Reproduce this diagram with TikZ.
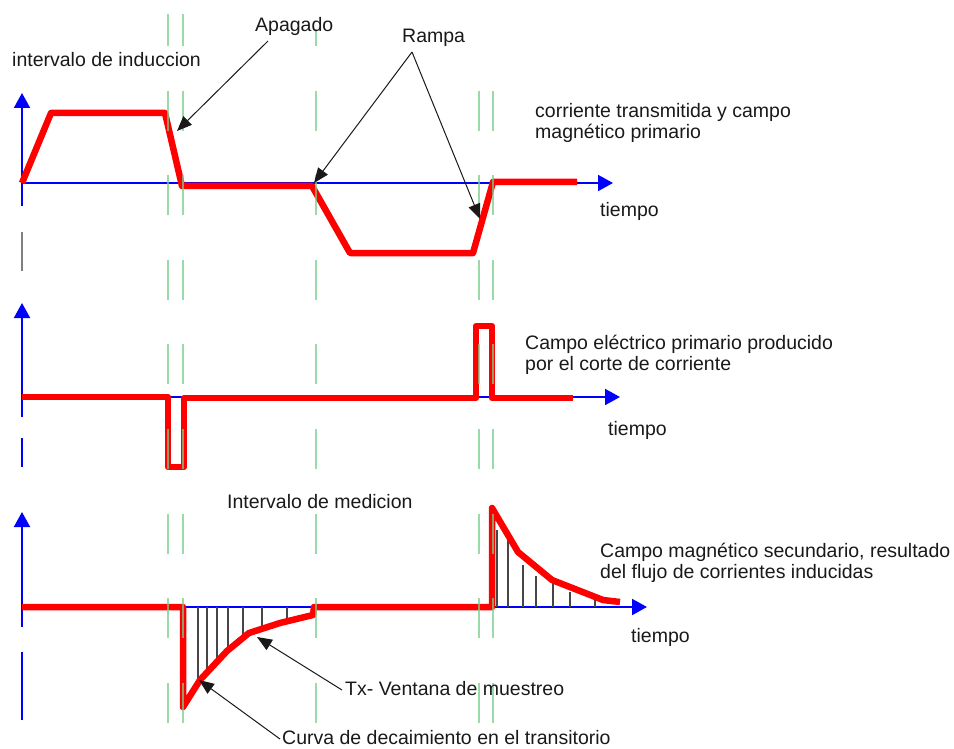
\documentclass[tikz,border=0pt]{standalone}
\usepackage{fontspec}
\setmainfont{Liberation Sans}
\usetikzlibrary{arrows.meta}
\definecolor{guidegreen}{RGB}{120,205,140}
\definecolor{txt}{RGB}{25,25,25}
\definecolor{hatchgray}{RGB}{70,70,70}
\begin{document}
\begin{tikzpicture}[x=1pt,y=-1pt,
  axisline/.style={draw={rgb,255:red,0;green,0;blue,255}, line width=2pt},
  axarrow/.style={axisline, -{Triangle[length=15pt,width=16pt]}},
  signal/.style={draw={rgb,255:red,255;green,0;blue,0}, line width=6.5pt, line join=round},
  guide/.style={draw=guidegreen, line width=2pt, dash pattern=on 40pt off 44.6pt, draw opacity=0.75},
  hatchline/.style={draw=hatchgray, line width=1.4pt},
  callout/.style={draw=txt, line width=1pt, -{Triangle[length=15pt,width=12pt]}},
  lbl/.style={font=\fontsize{19.5}{22}\selectfont, text=txt, inner sep=0pt, anchor=base west}]
\useasboundingbox (0,0) rectangle (954,749);

% axes
\draw[axarrow] (22,206) -- (22,93);
\draw[axarrow] (22,183) -- (613,183);
\draw[draw=gray, line width=1.5pt] (22,232) -- (22,271);
\draw[axarrow] (22,417) -- (22,303);
\draw[axarrow] (22,397) -- (620,397);
\draw[axisline] (22,438) -- (22,467);
\draw[axarrow] (22,627) -- (22,512);
\draw[axarrow] (22,607) -- (647,607);
\draw[axisline] (22,652) -- (22,720);

% hatching (sampling window)
\foreach \hx/\hy in {198/679, 207/671, 217/660, 228/647, 243/635, 262/626, 287/618}
  \draw[hatchline] (\hx,607) -- (\hx,\hy);
\foreach \hx/\hy in {497/530, 508/538, 523/565, 536/576, 553/582, 570/592, 595/598}
  \draw[hatchline] (\hx,607) -- (\hx,\hy);

% signals
\draw[signal] (22,183) -- (51,113) -- (165,113) -- (182,186) -- (312,186) -- (350,253) -- (473,253) -- (493,182) -- (577,182);
\draw[signal] (22,397) -- (168,397) -- (168,467) -- (184,467) -- (184,398) -- (476,398) -- (476,326) -- (492,326) -- (492,398) -- (573,398);
\draw[signal] (22,607) -- (183,607) -- (183,707) -- (200,680) -- (227,651) -- (249,633) -- (280,623) -- (313,615) -- (314,607) -- (492,607) -- (492,508) -- (518,552) -- (552,580) -- (603,600) -- (620,602);

% green dashed time markers
\foreach \gx/\gs/\gp in {168/14/8, 183/14/8, 316/29/23, 479/91/0.4, 493/91/0.4}
  \draw[guide, dash phase=\gp pt] (\gx,\gs) -- (\gx,749);

% labels
\node[lbl] (induccion) at (12,67) {intervalo de induccion};
\node[lbl] (apagado) at (255,32) {Apagado};
\node[lbl] (rampa) at (402,43) {Rampa};
\node[lbl] (corr1) at (535,118) {corriente transmitida y campo};
\node[lbl] (corr2) at (535,139) {magnético primario};
\node[lbl] (t1) at (600,217) {tiempo};
\node[lbl] (ce1) at (525,349) {Campo eléctrico primario producido};
\node[lbl] (ce2) at (525,370) {por el corte de corriente};
\node[lbl] (t2) at (608,435) {tiempo};
\node[lbl] (medicion) at (227,508) {Intervalo de medicion};
\node[lbl] (cm1) at (600,557) {Campo magnético secundario, resultado};
\node[lbl] (cm2) at (600,578) {del flujo de corrientes inducidas};
\node[lbl] (t3) at (631,642) {tiempo};
\node[lbl] (tx) at (345,695) {Tx- Ventana de muestreo};
\node[lbl] (curva) at (282,744) {Curva de decaimiento en el transitorio};

% callout anchors
\coordinate (apS) at (268,41);
\coordinate (apT) at (177,131);
\coordinate (raS) at (412,52);
\coordinate (raT1) at (314,183);
\coordinate (raT2) at (480,219);
\coordinate (txS) at (342,690);
\coordinate (txT) at (257,637);
\coordinate (cuS) at (280,739);
\coordinate (cuT) at (199,680);

\draw[callout] (apS) -- (apT);
\draw[callout] (raS) -- (raT1);
\draw[callout] (raS) -- (raT2);
\draw[callout] (txS) -- (txT);
\draw[callout] (cuS) -- (cuT);
\end{tikzpicture}
\end{document}
